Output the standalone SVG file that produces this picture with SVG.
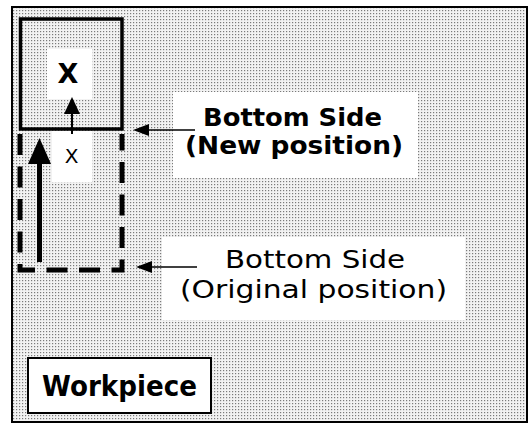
<svg xmlns="http://www.w3.org/2000/svg" width="529" height="424" viewBox="0 0 529 424">
  <style>
    .lbl { font-family: "DejaVu Sans", "Open Sans", "Liberation Sans", sans-serif; fill: #000; }
    .b { font-weight: bold; }
    .lead { stroke: #000; stroke-width: 1.6; fill: none; }
    .white { fill: #fff; }
  </style>
  <defs>
    <pattern id="ht" width="3" height="3" patternUnits="userSpaceOnUse">
      <rect width="3" height="3" fill="#f2f2f2"/>
      <rect x="1" y="1" width="1.2" height="1.2" fill="#7a7a7a"/>
    </pattern>
  </defs>
  <rect x="0" y="0" width="529" height="424" fill="#fff"/>
  <rect id="frame" x="12" y="7" width="515" height="415" fill="url(#ht)" stroke="#000" stroke-width="2"/>

  <g id="new-position">
    <rect class="white" x="47" y="49" width="45" height="50"/>
    <rect x="20.5" y="19" width="101.5" height="110" fill="none" stroke="#000" stroke-width="3.5"/>
    <text class="lbl b" x="68" y="83" font-size="27" text-anchor="middle">X</text>
  </g>

  <g id="original-position">
    <rect class="white" x="52" y="131" width="40" height="51"/>
    <path d="M20,134 V270 H122 V134" fill="none" stroke="#000" stroke-width="5" stroke-dasharray="21 11.5"/>
    <text class="lbl" x="71.5" y="163" font-size="20" text-anchor="middle">X</text>
  </g>

  <g id="label-new">
    <rect class="white" x="173" y="92" width="245" height="86"/>
    <text class="lbl b" x="203" y="126" font-size="24" textLength="179" lengthAdjust="spacingAndGlyphs">Bottom Side</text>
    <text class="lbl b" x="185" y="154" font-size="24" textLength="218" lengthAdjust="spacingAndGlyphs">(New position)</text>
  </g>

  <g id="label-original">
    <rect class="white" x="162" y="237" width="303" height="83"/>
    <text class="lbl" x="225" y="268" font-size="24" textLength="180" lengthAdjust="spacingAndGlyphs">Bottom Side</text>
    <text class="lbl" x="180" y="298" font-size="24" textLength="267" lengthAdjust="spacingAndGlyphs">(Original position)</text>
  </g>

  <g id="workpiece">
    <rect class="white" x="28" y="358" width="183" height="55" stroke="#000" stroke-width="2"/>
    <text class="lbl b" x="42" y="396" font-size="28" textLength="155" lengthAdjust="spacingAndGlyphs">Workpiece</text>
  </g>

  <g id="connectors">
    <line x1="39.5" y1="262" x2="39.5" y2="160" stroke="#000" stroke-width="5"/>
    <polygon points="39.5,138 28,164 51,164" fill="#000"/>
    <line x1="72" y1="134" x2="72" y2="110" stroke="#000" stroke-width="2"/>
    <polygon points="72,97 64,114 80,114" fill="#000"/>
    <line class="lead" x1="195" y1="130" x2="146" y2="130"/>
    <polygon points="133,130 149,124 149,136" fill="#000"/>
    <line class="lead" x1="197" y1="267" x2="149" y2="267"/>
    <polygon points="136,267 152,261 152,273" fill="#000"/>
  </g>
</svg>
